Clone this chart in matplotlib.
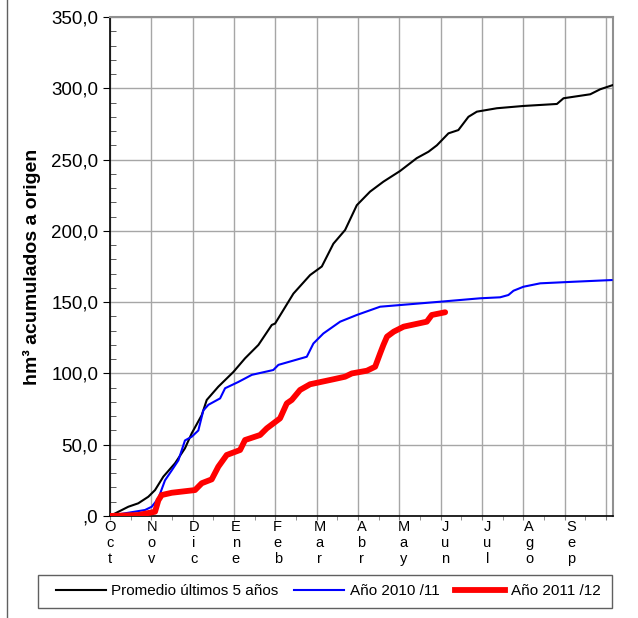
import matplotlib
matplotlib.use("Agg")
import matplotlib.pyplot as plt
from matplotlib.lines import Line2D
from matplotlib.patches import Rectangle
from matplotlib.ticker import MultipleLocator, FuncFormatter
import matplotlib.transforms as mtransforms

plt.rcParams['font.family'] = ['Liberation Sans', 'DejaVu Sans']

# Day of hydrological year (0 = 1 Oct) and accumulated volume (hm3)
prom_days = [0, 13.3, 20.5, 27.8, 32.7, 38.7, 47.2, 54.4, 59.3, 66.6, 70.2, 78.6, 89.5, 98, 107.7,
             117.4, 119.8, 133.1, 145.2, 153.7, 162.1, 170.6, 179.1, 188.7, 198.4, 210.5, 222.6,
             231.1, 237.2, 245.6, 252.8, 260.1, 266.2, 280.7, 300, 324.3, 329.1, 348.5, 355.7, 365]
prom_vals = [0, 6.5, 8.9, 13.5, 18.2, 27.6, 37, 47.5, 58, 70.8, 81.4, 90.7, 101, 110.6, 120,
             134, 135, 156, 169, 175, 191, 200.6, 218, 227.5, 234.5, 242, 251,
             255.5, 260, 268.4, 270.7, 280, 283.6, 286, 287.6, 289, 293, 295.8, 299.3, 302.3]

a1011_days = [0, 10.9, 25.4, 30.3, 35.1, 39.9, 44.8, 49.6, 54.4, 59.3, 64.1, 67.7, 71.4, 79.9,
              83.5, 93.1, 102.9, 118.5, 122.2, 142.8, 147.6, 154.8, 167, 179.1, 196, 239.6,
              268.6, 283.1, 289.1, 292.8, 300, 312.2, 336.3, 364.2]
a1011_vals = [0, 1.9, 4.2, 6.5, 12.4, 25, 32, 39, 53, 55.6, 60, 74, 78, 82.5,
              89.6, 94, 99, 102.4, 106, 111.7, 121, 128, 136.3, 141, 146.8, 150.3,
              152.7, 153.4, 155, 158, 160.8, 163.2, 164.3, 165.5]

a1112_days = [0, 20.5, 32.7, 35.1, 37.5, 44.8, 61.7, 66.6, 73.8, 78.6, 84.7, 94.4, 98, 108.9,
              113.8, 123.4, 128.3, 131.9, 137.9, 145.2, 162.1, 170.6, 175.5, 186.4, 192.4,
              196, 198.4, 201, 205.9, 213.1, 229.9, 233.5, 243.2]
a1112_vals = [0, 0.7, 3, 11, 14.7, 16.3, 18.2, 23, 25.7, 34.6, 42.8, 46.3, 53.3, 56.8,
              61.5, 68.5, 79, 81.4, 88.4, 92.4, 95.9, 97.7, 100, 101.9, 104.7,
              114, 120, 125.8, 129.3, 132.8, 136.3, 141, 142.9]

month_labels = ["Oct", "Nov", "Dic", "Ene", "Feb", "Mar", "Abr", "May", "Jun", "Jul", "Ago", "Sep"]
series_names = ["Promedio últimos 5 años", "Año 2010 /11", "Año 2011 /12"]
series_colors = ['black', '#0000ff', '#ff0000']
series_widths = [1.5, 1.5, 4.2]

fig = plt.figure(figsize=(6.38, 6.18), dpi=100)
ax = fig.add_axes([110/638, 102/618, 503/638, 499/618])

series = [(prom_days, prom_vals), (a1011_days, a1011_vals), (a1112_days, a1112_vals)]
for i, (d, v) in enumerate(series):
    ax.plot(d, v, color=series_colors[i], lw=series_widths[i], label=series_names[i],
            zorder=3 + i, solid_joinstyle='round', solid_capstyle='round')

ax.set_xlim(0, 365)
ax.set_ylim(0, 350)

ax.xaxis.set_major_locator(MultipleLocator(30))
ax.xaxis.set_minor_locator(MultipleLocator(15))
ax.set_xticklabels([])
ax.tick_params(axis='x', which='both', direction='out', length=3, color='#808080')

def yfmt(v, p):
    s = ("%.1f" % v).replace('.', ',')
    return ",0" if v == 0 else s

ax.yaxis.set_major_locator(MultipleLocator(50))
ax.yaxis.set_minor_locator(MultipleLocator(10))
ax.yaxis.set_major_formatter(FuncFormatter(yfmt))
ax.tick_params(axis='y', which='major', direction='out', length=5, labelsize=13.5, color='black')
ax.tick_params(axis='y', which='minor', direction='in', length=4, color='#404040')

ax.grid(True, which='major', color='#a6a6a6', lw=1)
ax.set_axisbelow(True)
for s in ['top', 'right']:
    ax.spines[s].set_color('#909090')
    ax.spines[s].set_linewidth(1.5)
ax.spines['left'].set_color('black')
ax.spines['bottom'].set_color('black')
ax.spines['left'].set_linewidth(1.2)
ax.spines['bottom'].set_linewidth(1.2)

ax.set_ylabel("hm³ acumulados a origen", fontsize=14, fontweight='bold', labelpad=7)

trans = mtransforms.blended_transform_factory(ax.transData, ax.transAxes)
for k, m in enumerate(month_labels):
    ax.text(k * 365 / 12, -0.008, "\n".join(m), transform=trans, ha='center', va='top',
            fontsize=10.5, linespacing=1.2)

handles = [Line2D([], [], color=series_colors[i], lw=series_widths[i]) for i in range(3)]
leg = fig.legend(handles, series_names, loc='center', ncol=3,
                 bbox_to_anchor=(328/638, 1 - 591/618), fontsize=11, frameon=False,
                 handlelength=3.3, handletextpad=0.35, columnspacing=1.0)

fig.add_artist(Rectangle((38/638, 1 - 608/618), 574/638, 33/618, transform=fig.transFigure,
                         fill=False, edgecolor='#606060', lw=1.0))
fig.add_artist(Line2D([7/638, 7/638], [0, 1], transform=fig.transFigure, color='#606060', lw=1))

fig.savefig("out.png", dpi=100)
